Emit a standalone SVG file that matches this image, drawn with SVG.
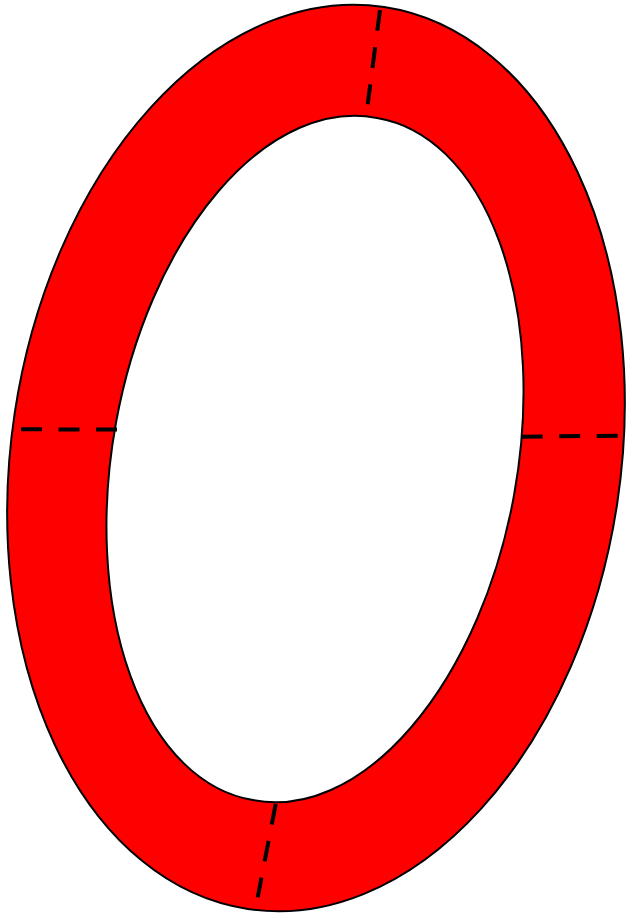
<svg xmlns="http://www.w3.org/2000/svg" width="629" height="916" viewBox="0 0 629 916">
  <style>
    .ring { fill: #ff0000; fill-rule: evenodd; stroke: #000000; stroke-width: 2; }
    .cut { stroke: #000000; stroke-width: 4; stroke-dasharray: 21 16.5; fill: none; }
  </style>
  <rect width="629" height="916" fill="#ffffff"/>
  <g id="ring">
    <path class="ring" d="M 384.2 7 A 304.6 456.1 8.6 1 1 247.8 909 A 304.6 456.1 8.6 1 1 384.2 7 Z M 377 117.9 A 200.7 346.7 10.3 1 1 253 800.1 A 200.7 346.7 10.3 1 1 377 117.9 Z"/>
  </g>
  <g id="cuts">
    <line class="cut" x1="380" y1="10" x2="367.7" y2="104.3"/>
    <line class="cut" x1="21" y1="429.3" x2="117" y2="429.5"/>
    <line class="cut" x1="521.7" y1="436.7" x2="617.7" y2="435.7"/>
    <line class="cut" x1="275.7" y1="804" x2="257.7" y2="897.3"/>
  </g>
</svg>
